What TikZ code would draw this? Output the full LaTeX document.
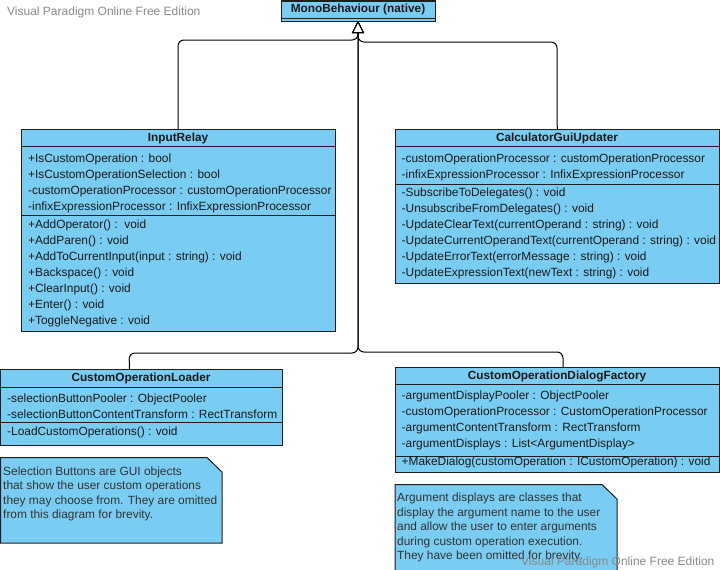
\documentclass[tikz,border=0pt]{standalone}
\usepackage{fontspec}
\setmainfont{Liberation Sans}
\usetikzlibrary{arrows.meta}
\definecolor{cls}{HTML}{79CDF2}
\definecolor{bordc}{HTML}{1E1E1E}
\definecolor{txt}{HTML}{1A1A1A}
\definecolor{notetxt}{HTML}{333333}
\definecolor{wm}{HTML}{8A8A8A}
\begin{document}
\begin{tikzpicture}[x=1pt,y=-1pt,
  classbox/.style={draw=bordc, fill=cls, line width=1pt, anchor=north west, inner sep=0pt, outer sep=0pt},
  sepline/.style={draw=bordc, line width=1pt},
  ln/.style={anchor=base west, inner sep=0pt, font=\fontsize{11.9}{13}\selectfont, text=txt},
  ttl/.style={anchor=base, inner sep=0pt, font=\fontsize{11.8}{13}\selectfont\bfseries, text=txt},
  nt/.style={anchor=base west, inner sep=0pt, font=\fontsize{11.9}{13}\selectfont, text=notetxt},
  notebox/.style={draw=bordc, fill=cls, line width=1pt},
  wmark/.style={anchor=base west, inner sep=0pt, font=\fontsize{12}{13}\selectfont, text=wm},
  gen/.style={draw=black, line width=1pt, rounded corners=6pt, -{Triangle[open, length=12pt, width=12pt, fill=white]}}
]
\useasboundingbox (0,0) rectangle (720,570);
\fill[white] (0,0) rectangle (720,570);

% watermark top
\node[wmark] (wm1) at (7,16) {Visual Paradigm Online Free Edition};

% MonoBehaviour
\node[classbox, minimum width=154pt, minimum height=20pt] (mono) at (281,1) {};
\draw[sepline] (281,18) -- (435,18);
\node[ttl] (monot) at (358,12.5) {MonoBehaviour (native)};

% InputRelay
\node[classbox, minimum width=314pt, minimum height=202pt] (ir) at (21,129) {};
\draw[sepline] (21,146) -- (335,146);
\draw[sepline] (21,215) -- (335,215);
\node[ttl] (irt) at (178,141) {InputRelay};
\node[ln] (ir1) at (28,162) {+IsCustomOperation : bool};
\node[ln] (ir2) at (28,178) {+IsCustomOperationSelection : bool};
\node[ln] (ir3) at (28,194) {-customOperationProcessor : customOperationProcessor};
\node[ln] (ir4) at (28,210) {-infixExpressionProcessor : InfixExpressionProcessor};
\node[ln] (ir5) at (28,228) {+AddOperator() :\ \ void};
\node[ln] (ir6) at (28,244) {+AddParen() : void};
\node[ln] (ir7) at (28,260) {+AddToCurrentInput(input : string) : void};
\node[ln] (ir8) at (28,276) {+Backspace() : void};
\node[ln] (ir9) at (28,292) {+ClearInput() : void};
\node[ln] (ir10) at (28,308) {+Enter() : void};
\node[ln] (ir11) at (28,324) {+ToggleNegative : void};

% CalculatorGuiUpdater
\node[classbox, minimum width=324.5pt, minimum height=154pt] (cgu) at (395,129) {};
\draw[sepline] (395,146) -- (719.5,146);
\draw[sepline] (395,184) -- (719.5,184);
\node[ttl] (cgut) at (557,141) {CalculatorGuiUpdater};
\node[ln] (cg1) at (401.5,162) {-customOperationProcessor : customOperationProcessor};
\node[ln] (cg2) at (401.5,178) {-infixExpressionProcessor : InfixExpressionProcessor};
\node[ln] (cg3) at (401.5,196) {-SubscribeToDelegates() : void};
\node[ln] (cg4) at (401.5,212) {-UnsubscribeFromDelegates() : void};
\node[ln] (cg5) at (401.5,228) {-UpdateClearText(currentOperand : string) : void};
\node[ln] (cg6) at (401.5,244) {-UpdateCurrentOperandText(currentOperand : string) : void};
\node[ln] (cg7) at (401.5,260) {-UpdateErrorText(errorMessage : string) : void};
\node[ln] (cg8) at (401.5,276) {-UpdateExpressionText(newText : string) : void};

% CustomOperationLoader
\node[classbox, minimum width=281.5pt, minimum height=76pt] (col) at (0.5,369) {};
\draw[sepline] (0.5,387) -- (282,387);
\draw[sepline] (0.5,422) -- (282,422);
\node[ttl] (colt) at (141,381) {CustomOperationLoader};
\node[ln] (co1) at (7,402) {-selectionButtonPooler : ObjectPooler};
\node[ln] (co2) at (7,418) {-selectionButtonContentTransform : RectTransform};
\node[ln] (co3) at (7,435) {-LoadCustomOperations() : void};

% CustomOperationDialogFactory
\node[classbox, minimum width=324.5pt, minimum height=105pt] (codf) at (395,367) {};
\draw[sepline] (395,384) -- (719.5,384);
\draw[sepline] (395,456) -- (719.5,456);
\node[ttl] (codft) at (557,379) {CustomOperationDialogFactory};
\node[ln] (cd1) at (401.5,399) {-argumentDisplayPooler : ObjectPooler};
\node[ln] (cd2) at (401.5,415) {-customOperationProcessor : CustomOperationProcessor};
\node[ln] (cd3) at (401.5,431) {-argumentContentTransform : RectTransform};
\node[ln] (cd4) at (401.5,447) {-argumentDisplays : List<ArgumentDisplay>};
\node[ln] (cd5) at (401.5,465) {+MakeDialog(customOperation : ICustomOperation) : void};

% Note 1
\draw[notebox] (0.5,457.5) -- (207,457.5) -- (222,472) -- (222,543) -- (0.5,543) -- cycle;
\node[nt] (n1a) at (3,475) {Selection Buttons are GUI objects};
\node[nt] (n1b) at (3,489.5) {that show the user custom operations};
\node[nt] (n1c) at (3,504) {they may choose from. They are omitted};
\node[nt] (n1d) at (3,518.5) {from this diagram for brevity.};

% Note 2
\draw[notebox] (395,484.5) -- (602,484.5) -- (617,499) -- (617,580) -- (395,580) -- cycle;
\node[nt] (n2a) at (397,501.5) {Argument displays are classes that};
\node[nt] (n2b) at (397,516) {display the argument name to the user};
\node[nt] (n2c) at (397,530.5) {and allow the user to enter arguments};
\node[nt] (n2d) at (397,545) {during custom operation execution.};
\node[nt] (n2e) at (397,559.5) {They have been omitted for brevity.};

% watermark bottom
\node[wmark] (wm2) at (521,565) {Visual Paradigm Online Free Edition};

% generalizations
\draw[gen] (ir.north) -- (178,40) -- (358,40) -- (mono.south);
\draw[gen] (cgu.north) -- (557,42) -- (358,42) -- (mono.south);
\draw[gen] ([xshift=-11.75pt]col.north) -- (129,353) -- (358,353) -- (mono.south);
\draw[gen] ([xshift=5.75pt]codf.north) -- (563,352) -- (358,352) -- (mono.south);
\end{tikzpicture}
\end{document}
